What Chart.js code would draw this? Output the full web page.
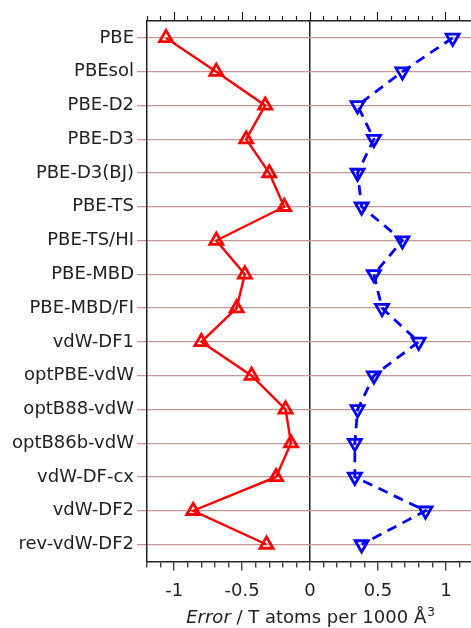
<!DOCTYPE html>
<html lang="en">
<head>
    <meta charset="UTF-8">
    <title>Error per functional</title>
    <script src="https://cdn.jsdelivr.net/npm/chart.js"></script>
    <style>
        html, body { margin: 0; padding: 0; background: #fff; overflow: hidden; }
    </style>
</head>
<body>
    <canvas id="errChart" width="471" height="628"></canvas>

    <script>
        const functionals = ['PBE', 'PBEsol', 'PBE-D2', 'PBE-D3', 'PBE-D3(BJ)', 'PBE-TS', 'PBE-TS/HI',
            'PBE-MBD', 'PBE-MBD/FI', 'vdW-DF1', 'optPBE-vdW', 'optB88-vdW', 'optB86b-vdW',
            'vdW-DF-cx', 'vdW-DF2', 'rev-vdW-DF2'];
        const negErrors = [-1.06, -0.69, -0.33, -0.47, -0.30, -0.19, -0.69, -0.48, -0.54,
            -0.80, -0.43, -0.18, -0.14, -0.25, -0.86, -0.32];
        const posErrors = [1.05, 0.68, 0.35, 0.47, 0.35, 0.38, 0.68, 0.47, 0.53,
            0.80, 0.47, 0.35, 0.33, 0.33, 0.85, 0.38];
        const xTickValues = [-1.2, -1.1, -1, -0.9, -0.8, -0.7, -0.6, -0.5, -0.4, -0.3, -0.2, -0.1, 0,
            0.1, 0.2, 0.3, 0.4, 0.5, 0.6, 0.7, 0.8, 0.9, 1, 1.1];
        const xLabelValues = [-1, -0.5, 0, 0.5, 1];

        const FONT = 'DejaVu Sans';
        const gridColor = '#c49696';
        const isMajor = v => Math.abs(v * 2 - Math.round(v * 2)) < 1e-6;

        // minor ticks: show only the 5px next to the axis
        function tickDash(ctx, top) {
            if (ctx.tick && isMajor(ctx.tick.value)) return [];
            return top ? [0, 4, 5, 100] : [5, 100];
        }

        function setTicks(scale) {
            scale.ticks = xTickValues.map(v => ({ value: v }));
        }

        // axis title with italic "Error"
        const axisTitle = {
            id: 'axisTitle',
            afterDraw(chart) {
                const ctx = chart.ctx;
                const cx = chart.scales.x.getPixelForValue(0);
                const y = chart.height - 5;
                const part1 = 'Error';
                const part2 = ' / T atoms per 1000 Å';
                ctx.save();
                ctx.fillStyle = '#222';
                ctx.textBaseline = 'alphabetic';
                ctx.font = 'italic 18px "' + FONT + '"';
                const w1 = ctx.measureText(part1).width;
                ctx.font = '18px "' + FONT + '"';
                const w2 = ctx.measureText(part2).width;
                ctx.font = '12px "' + FONT + '"';
                const w3 = ctx.measureText('3').width;
                let x = cx - (w1 + w2 + w3) / 2;
                ctx.font = 'italic 18px "' + FONT + '"';
                ctx.fillText(part1, x, y);
                x += w1;
                ctx.font = '18px "' + FONT + '"';
                ctx.fillText(part2, x, y);
                x += w2;
                ctx.font = '12px "' + FONT + '"';
                ctx.fillText('3', x + 1, y - 7);
                ctx.restore();
            }
        };

        new Chart(document.getElementById('errChart'), {
            type: 'line',
            data: {
                labels: functionals,
                datasets: [
                    {
                        label: 'negative',
                        data: negErrors,
                        borderColor: '#ff0000',
                        backgroundColor: 'rgba(0,0,0,0)',
                        borderWidth: 2.4,
                        pointStyle: 'triangle',
                        pointRadius: 7.5,
                        pointBorderWidth: 2.8,
                        pointBackgroundColor: 'rgba(0,0,0,0)',
                        fill: false
                    },
                    {
                        label: 'positive',
                        data: posErrors,
                        borderColor: '#0000ff',
                        backgroundColor: 'rgba(0,0,0,0)',
                        borderWidth: 2.8,
                        borderDash: [10, 7],
                        pointStyle: 'triangle',
                        rotation: 180,
                        pointRadius: 7.5,
                        pointBorderWidth: 2.8,
                        pointBackgroundColor: 'rgba(0,0,0,0)',
                        fill: false
                    }
                ]
            },
            options: {
                responsive: false,
                animation: false,
                indexAxis: 'y',
                layout: { autoPadding: false, padding: { top: 12, left: 0, right: 0, bottom: 16 } },
                plugins: {
                    legend: { display: false },
                    tooltip: { enabled: false }
                },
                scales: {
                    x: {
                        type: 'linear',
                        position: 'bottom',
                        min: -1.2,
                        max: 1.185,
                        afterBuildTicks: setTicks,
                        border: { display: true, color: '#222', width: 1.5 },
                        grid: {
                            drawOnChartArea: true,
                            color: c => (c.tick && c.tick.value === 0) ? '#222' : 'rgba(0,0,0,0)',
                            lineWidth: 1.5,
                            tickLength: 9,
                            tickColor: '#222',
                            tickWidth: 1.2,
                            tickBorderDash: c => tickDash(c, false)
                        },
                        ticks: {
                            autoSkip: false,
                            maxRotation: 0,
                            padding: 10,
                            color: '#222',
                            font: { family: FONT, size: 18 },
                            callback: v => xLabelValues.includes(v) ? String(v) : ''
                        }
                    },
                    xTop: {
                        type: 'linear',
                        position: 'top',
                        min: -1.2,
                        max: 1.185,
                        afterBuildTicks: setTicks,
                        border: { display: true, color: '#222', width: 1.5 },
                        grid: {
                            drawOnChartArea: false,
                            tickLength: 9,
                            tickColor: '#222',
                            tickWidth: 1.2,
                            tickBorderDash: c => tickDash(c, true)
                        },
                        ticks: { display: false }
                    },
                    y: {
                        type: 'category',
                        offset: true,
                        border: { display: true, color: '#222', width: 1.5 },
                        grid: {
                            offset: false,
                            color: gridColor,
                            lineWidth: 1.3,
                            tickLength: 10,
                            tickColor: gridColor
                        },
                        ticks: {
                            autoSkip: false,
                            padding: 3,
                            color: '#222',
                            font: { family: FONT, size: 18 }
                        },
                        afterFit: scale => { scale.width = 147; }
                    }
                }
            },
            plugins: [axisTitle]
        });
    </script>
</body>
</html>
